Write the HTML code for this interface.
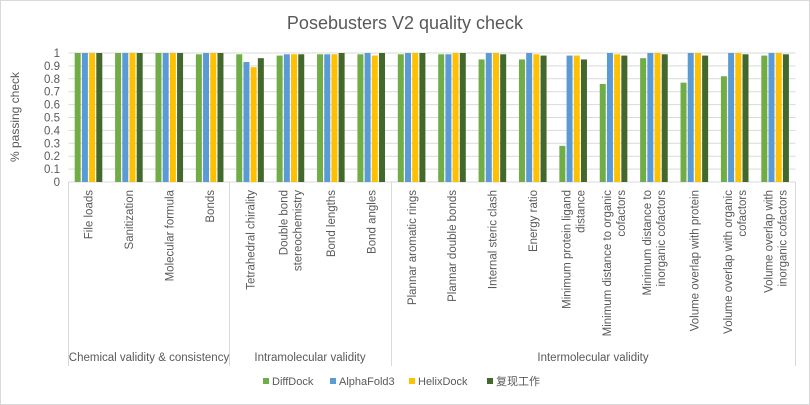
<!DOCTYPE html>
<html><head><meta charset="utf-8"><style>
html,body{margin:0;padding:0;background:#fff}
svg{display:block}
text{font-family:"Liberation Sans","Noto Sans CJK SC",sans-serif;fill:#595959}
</style></head><body>
<svg width="810" height="405" viewBox="0 0 810 405" xmlns="http://www.w3.org/2000/svg">
<rect x="0.5" y="0.5" width="809" height="404" fill="#fff" stroke="#d9d9d9"/>
<text x="405" y="29" font-size="18" text-anchor="middle">Posebusters V2 quality check</text>
<g id="grid" stroke="#d9d9d9" stroke-width="1"></g>
<g id="ylab" font-size="11.5" text-anchor="end"></g>
<text transform="translate(19,117) rotate(-90)" font-size="12" text-anchor="middle">% passing check</text>
<g id="bars"></g>
<g id="cats" font-size="11.5"></g>
<g stroke="#d9d9d9">
<line x1="68.5" y1="182" x2="68.5" y2="366"/><line x1="229.5" y1="182" x2="229.5" y2="366"/>
<line x1="391.5" y1="182" x2="391.5" y2="366"/><line x1="795.5" y1="182" x2="795.5" y2="366"/>
</g>
<g font-size="11.5" text-anchor="middle">
<text x="149" y="361">Chemical validity &amp; consistency</text>
<text x="310" y="361">Intramolecular validity</text>
<text x="593" y="361">Intermolecular validity</text>
</g>
<g font-size="11">
<rect x="263" y="378" width="6" height="6" fill="#70ad47"/><text x="272" y="385">DiffDock</text>
<rect x="330" y="378" width="6" height="6" fill="#5b9bd5"/><text x="339" y="385">AlphaFold3</text>
<rect x="409" y="378" width="6" height="6" fill="#ffc000"/><text x="418" y="385">HelixDock</text>
<rect x="487" y="378" width="6" height="6" fill="#43682b"/><text x="496" y="385">复现工作</text>
</g>
<script>
var ns="http://www.w3.org/2000/svg";
function el(p,t,a,txt){var e=document.createElementNS(ns,t);for(var k in a)e.setAttribute(k,a[k]);if(txt!=null)e.textContent=txt;document.getElementById(p).appendChild(e);return e;}
var y0=182,y1=53,x0=68.5,x1=795.5;
for(var i=0;i<=10;i++){var y=y0-(y0-y1)*i/10;el("grid","line",{x1:x0,x2:x1,y1:y,y2:y});el("ylab","text",{x:60,y:y+4},i==10?"1":i==0?"0":"0."+i);}
var d=[[1,1,1,1],[1,1,1,1],[1,1,1,1],[.99,1,1,1],[.99,.93,.89,.96],[.98,.99,.99,.99],[.99,.99,.99,1],[.99,1,.98,1],[.99,1,1,1],[.99,.99,1,1],[.95,1,1,.99],[.95,1,.99,.98],[.28,.98,.98,.95],[.76,1,.99,.98],[.96,1,1,.99],[.77,1,1,.98],[.82,1,1,.99],[.98,1,1,.99]];
var labs=[["File loads"],["Sanitization"],["Molecular formula"],["Bonds"],["Tetrahedral chirality"],["Double bond","stereochemistry"],["Bond lengths"],["Bond angles"],["Plannar aromatic rings"],["Plannar double bonds"],["Internal steric clash"],["Energy ratio"],["Minimum protein ligand","distance"],["Minimum distance to organic","cofactors"],["Minimum distance to","inorganic cofactors"],["Volume overlap with protein"],["Volume overlap with organic","cofactors"],["Volume overlap with","inorganic cofactors"]];
var cols=["#70ad47","#5b9bd5","#ffc000","#43682b"];
var cw=(x1-x0)/18;
d.forEach(function(v,c){var cx=x0+cw*(c+0.5);
 v.forEach(function(val,s){var h=(y0-y1)*val;el("bars","rect",{x:cx-14+s*7.2,y:y0-h,width:6,height:h,fill:cols[s]});});
 var L=labs[c];L.forEach(function(t,j){var xx=cx+4+(j-(L.length-1)/2)*14;el("cats","text",{transform:"translate("+xx+",190) rotate(-90)","text-anchor":"end"},t);});
});
</script>
</svg>
</body></html>
